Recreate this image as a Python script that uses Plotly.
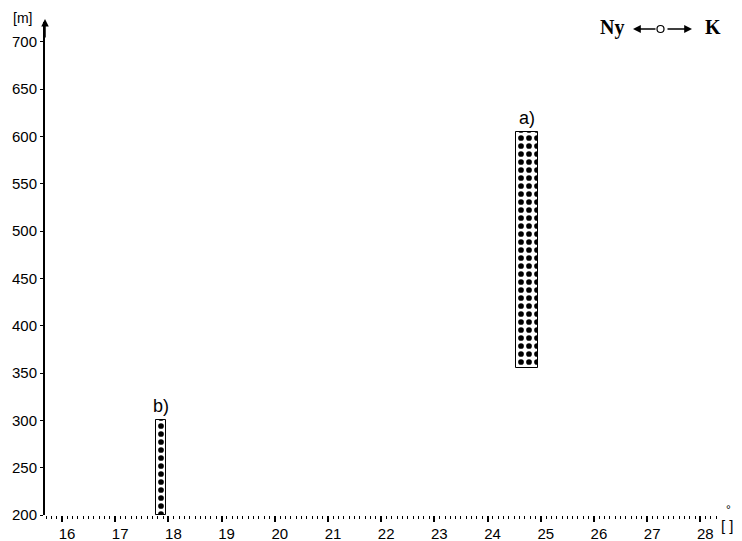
import plotly.graph_objects as go

# Sample intervals: label, position (deg), lower and upper elevation (m), bar width
labels = ["a)", "b)"]
positions = [24.74, 17.86]
lower = [355, 200]
upper = [605, 300]
widths = [0.41, 0.19]

x_ticks = list(range(16, 29))
y_ticks = list(range(200, 701, 50))

W, H = 742, 541
ML, MR, MT, MB = 45, 22, 22, 26
X_RANGE = [15.68, 28.37]
Y_RANGE = [200, 721]


def px(xp):
    return (xp - ML) / (W - ML - MR)


def py(yp):
    return (H - MB - yp) / (H - MT - MB)


def label(xp, yp, text, fnt):
    return dict(x=px(xp), y=py(yp), xref="paper", yref="paper", text=text,
                showarrow=False, xanchor="center", yanchor="middle", font=fnt)


fig = go.Figure()
fig.add_trace(go.Bar(
    x=positions,
    y=[u - l for u, l in zip(upper, lower)],
    base=lower,
    width=widths,
    marker=dict(
        color="white",
        line=dict(color="black", width=1),
        pattern=dict(shape=".", fgcolor="black", fgopacity=1, bgcolor="white",
                     size=8, solidity=0.4),
    ),
    showlegend=False,
    hoverinfo="skip",
))

family = "Liberation Sans, Arial, sans-serif"
font = dict(family=family, size=14, color="black")

annotations = []
for lab, xv, top in zip(labels, positions, upper):
    annotations.append(dict(x=xv, y=top, text=lab, showarrow=False, xanchor="center",
                            yanchor="bottom", yshift=2,
                            font=dict(family=family, size=18, color="black")))

# axis units
annotations.append(label(22, 18, "[m]", dict(family=family, size=14, color="#000000")))
annotations.append(label(727, 525, "[ ]", dict(family=family, size=15, color="#000000")))
annotations.append(label(728, 510, "°", dict(family=family, size=12, color="#000000")))

# arrow on top of the vertical axis
annotations.append(dict(x=0, y=py(19), xref="paper", yref="paper", text="", showarrow=True,
                        ax=0, ay=20, arrowhead=2, arrowsize=1, arrowwidth=1.5, arrowcolor="black"))

# direction legend: Ny <-o-> K
serif = dict(family="Liberation Serif, Times New Roman, serif", size=20, color="black")
annotations.append(label(612, 27, "<b>Ny</b>", serif))
annotations.append(label(713, 27, "<b>K</b>", serif))
annotations.append(dict(x=px(633), y=py(29), xref="paper", yref="paper", text="", showarrow=True,
                        ax=24, ay=0, arrowhead=2, arrowsize=1.2, arrowwidth=1.3, arrowcolor="black"))
annotations.append(dict(x=px(692), y=py(29), xref="paper", yref="paper", text="", showarrow=True,
                        ax=-26, ay=0, arrowhead=2, arrowsize=1.2, arrowwidth=1.3, arrowcolor="black"))

shapes = [dict(type="circle", xref="paper", yref="paper",
               x0=px(657), x1=px(664), y0=py(32.5), y1=py(25.5),
               line=dict(color="black", width=1.2), fillcolor="white")]

fig.update_layout(
    width=W, height=H,
    margin=dict(l=ML, r=MR, t=MT, b=MB, autoexpand=False),
    paper_bgcolor="white", plot_bgcolor="white",
    font=font,
    annotations=annotations,
    shapes=shapes,
    bargap=0,
    xaxis=dict(
        range=X_RANGE, tickvals=x_ticks, ticktext=[str(v) for v in x_ticks],
        showgrid=False, zeroline=False, showline=False, automargin=False,
        ticks="outside", ticklen=6, tickwidth=1.5, tickcolor="black",
        minor=dict(dtick=0.1, tick0=16, ticks="outside", ticklen=3, tickwidth=1, tickcolor="black"),
        tickfont=dict(family=family, size=15, color="black"),
        ticklabelstandoff=-1, ticklabelshift=5,
    ),
    yaxis=dict(
        range=Y_RANGE, tickvals=y_ticks, ticktext=[str(v) for v in y_ticks],
        showgrid=False, zeroline=False, showline=True, linecolor="black", linewidth=2,
        automargin=False,
        ticks="outside", ticklen=3, tickwidth=1, tickcolor="black",
        tickfont=dict(family=family, size=15, color="black"),
        ticklabelstandoff=0,
    ),
)

fig.write_html("out.html")
